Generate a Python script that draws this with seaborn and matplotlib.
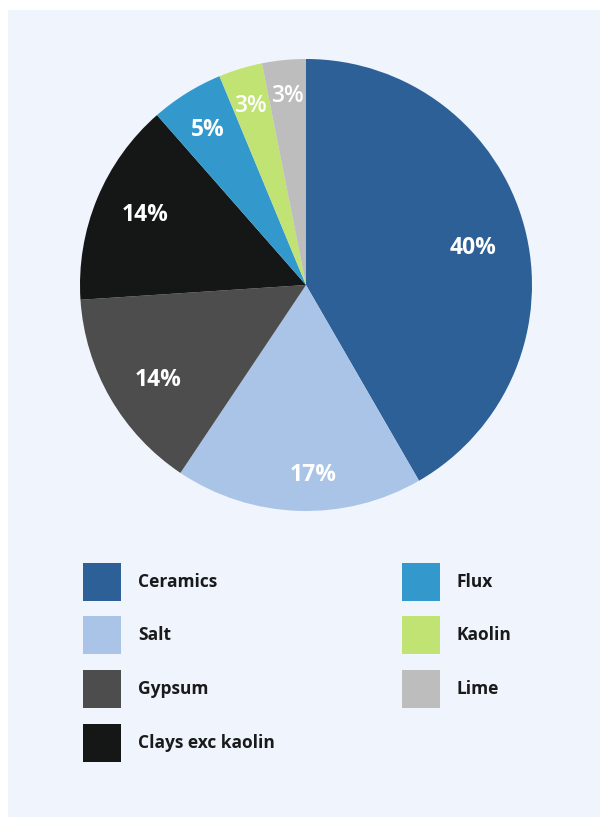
import matplotlib
matplotlib.use("Agg")
import matplotlib.pyplot as plt
from matplotlib.patches import Rectangle
import numpy as np
import seaborn as sns

# Share of production by mineral (%)
categories = ["Ceramics", "Salt", "Gypsum", "Clays exc kaolin", "Flux", "Kaolin", "Lime"]
shares = [40, 17, 14, 14, 5, 3, 3]
slice_colors = ["#2D6096", "#AAC4E8", "#4D4D4D", "#151716", "#3399CC", "#C0E373", "#BDBDBD"]
# percentage label placement: radius as a fraction of the pie radius,
# and a small angular nudge (degrees, clockwise) from the wedge's middle
label_radius = [0.76, 0.83, 0.77, 0.78, 0.82, 0.84, 0.85]
label_nudge = [1.9, -4.0, -2.1, 1.6, 0.0, 0.0, 0.0]
label_weight = ["bold", "bold", "bold", "bold", "bold", "semibold", "semibold"]

sns.set_theme(style="white")
plt.rcParams["font.family"] = ["Open Sans", "DejaVu Sans"]

W, H = 600, 817
fig = plt.figure(figsize=(W / 100, H / 100), dpi=100, facecolor="white")

# light panel behind everything
bg = fig.add_axes([0, 0, 1, 1])
bg.set_xlim(0, W)
bg.set_ylim(H, 0)
bg.axis("off")
bg.add_patch(Rectangle((8, 10), W - 8, H - 10, facecolor="#EFF4FD", edgecolor="none"))

# pie
cx, cy, r = 306, 285, 226
ax = fig.add_axes([(cx - r) / W, (H - cy - r) / H, 2 * r / W, 2 * r / H])
palette = sns.color_palette(slice_colors)
wedges, _ = ax.pie(shares, colors=palette, startangle=90, counterclock=False,
                   radius=1, wedgeprops=dict(linewidth=0))
ax.set_xlim(-1, 1)
ax.set_ylim(-1, 1)
ax.axis("off")
for w, val, rr, nd, wt in zip(wedges, shares, label_radius, label_nudge, label_weight):
    mid = np.deg2rad((w.theta1 + w.theta2) / 2 - nd)
    ax.text(rr * np.cos(mid), rr * np.sin(mid) - 0.01, f"{val}%", ha="center", va="center",
            color="white", fontsize=16.5, fontweight=wt)

# legend, two columns of swatches
col_x = [83, 402]
row_y = [563, 616, 670, 724]
box = 38
for i, (name, col) in enumerate(zip(categories, slice_colors)):
    c = 0 if i < 4 else 1
    rr = i if i < 4 else i - 4
    x, y = col_x[c], row_y[rr]
    bg.add_patch(Rectangle((x, y), box, box, facecolor=col, edgecolor="none"))
    bg.text(x + 55, y + box / 2, name, ha="left", va="center", fontsize=12.5,
            fontweight="bold", color="#1A1A1A")

fig.savefig("out.png", dpi=100, facecolor="white")
